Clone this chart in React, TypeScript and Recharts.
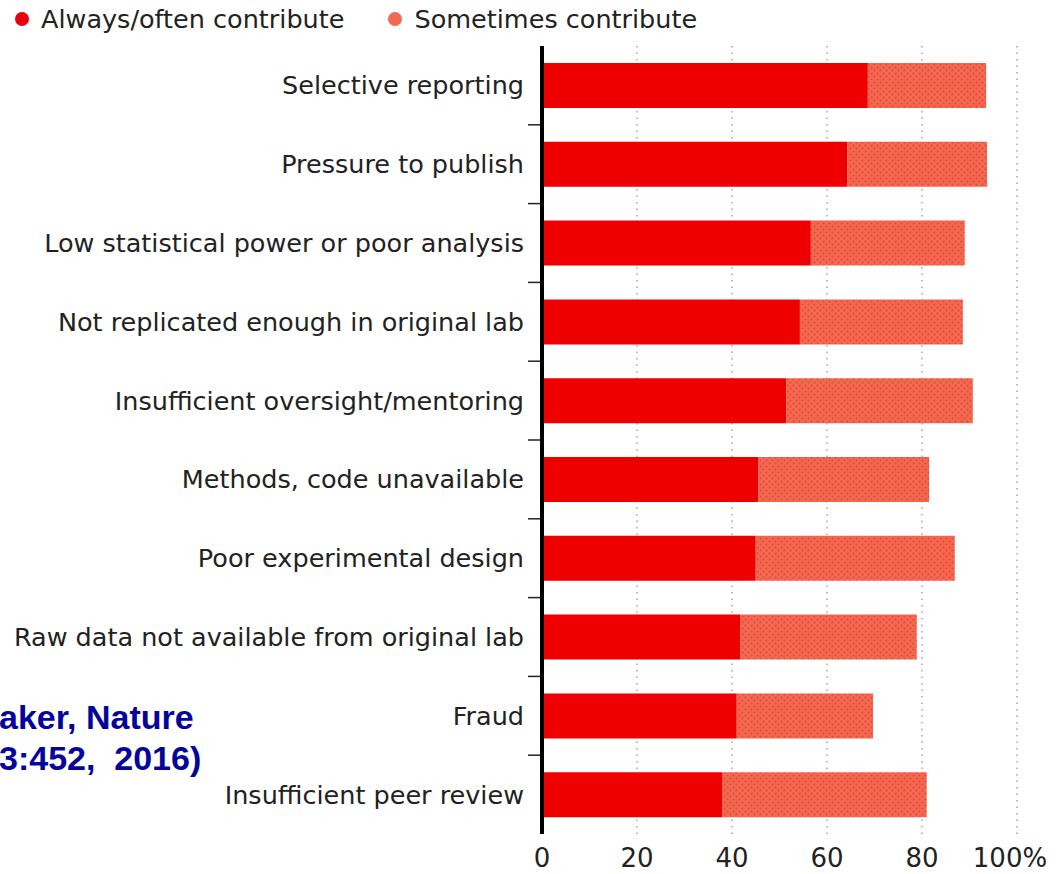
import { BarChart, Bar, XAxis, YAxis, CartesianGrid } from 'recharts';

const causes = [
  'Selective reporting',
  'Pressure to publish',
  'Low statistical power or poor analysis',
  'Not replicated enough in original lab',
  'Insufficient oversight/mentoring',
  'Methods, code unavailable',
  'Poor experimental design',
  'Raw data not available from original lab',
  'Fraud',
  'Insufficient peer review',
];
const alwaysOften = [68.6, 64.3, 56.6, 54.3, 51.4, 45.5, 45.0, 41.7, 41.0, 37.9];
const sometimes = [24.9, 29.4, 32.4, 34.3, 39.3, 36.0, 41.9, 37.2, 28.7, 43.1];
const xTicks = [0, 20, 40, 60, 80, 100];
const legendLabels = ['Always/often contribute', 'Sometimes contribute'];

const RED = '#ee0000';
const SALMON = '#f5684f';
const FONT = '"DejaVu Sans", sans-serif';

const rows = causes.map((name, i) => ({ name, always: alwaysOften[i], sometimes: sometimes[i] }));

function CauseTick(props: any) {
  const { x, y, payload, index } = props;
  const half = payload.offset ?? 39.5;
  return (
    <g>
      <text x={x - 16} y={y} dy="0.35em" textAnchor="end" fontSize={25.5} fill="#222" fontFamily={FONT}>
        {payload.value}
      </text>
      {index < causes.length - 1 && (
        <line x1={x - 12} x2={x} y1={y + half} y2={y + half} stroke="#222" strokeWidth={1.5} />
      )}
    </g>
  );
}

function PctTick(props: any) {
  const { x, y, payload } = props;
  const last = payload.value === 100;
  return (
    <text x={last ? x - 7 : x} y={y} dy="0.71em" textAnchor="middle" fontSize={26} fill="#222" fontFamily={FONT}>
      {last ? '100%' : payload.value}
    </text>
  );
}

function LegendRow() {
  const colors = ['#e8000c', '#f26a55'];
  return (
    <div
      style={{
        position: 'absolute',
        left: 15,
        top: 4,
        display: 'flex',
        gap: 44,
        fontFamily: FONT,
        fontSize: 25.5,
        color: '#222',
      }}
    >
      {legendLabels.map((label, i) => (
        <div key={label} style={{ display: 'flex', alignItems: 'center' }}>
          <span
            style={{ width: 14, height: 14, borderRadius: 7, background: colors[i], display: 'inline-block', marginRight: 12 }}
          />
          {label}
        </div>
      ))}
    </div>
  );
}

export default function App() {
  return (
    <div style={{ position: 'absolute', left: 0, top: 0, width: 1064, height: 874, background: '#fff', overflow: 'hidden' }}>
      <svg width={0} height={0} style={{ position: 'absolute' }}>
        <defs>
          <pattern id="dotfill" width={6} height={6} patternUnits="userSpaceOnUse">
            <rect width={6} height={6} fill={SALMON} />
            <circle cx={1.5} cy={1.5} r={1} fill="#d94a3a" />
            <circle cx={4.5} cy={4.5} r={1} fill="#d94a3a" />
          </pattern>
        </defs>
      </svg>
      <BarChart
        width={1064}
        height={874}
        data={rows}
        layout="vertical"
        margin={{ top: 46, right: 47, bottom: 0, left: 0 }}
      >
        <CartesianGrid horizontal={false} vertical stroke="#777" strokeDasharray="1.5 5" />
        <XAxis
          type="number"
          domain={[0, 100]}
          ticks={xTicks}
          axisLine={false}
          tickLine={false}
          tickMargin={9}
          height={40}
          tick={<PctTick />}
        />
        <YAxis
          type="category"
          dataKey="name"
          width={542}
          axisLine={{ stroke: '#000', strokeWidth: 4 }}
          tickLine={false}
          tickSize={0}
          tick={<CauseTick />}
          interval={0}
        />
        <Bar dataKey="always" stackId="a" fill={RED} barSize={45} isAnimationActive={false} />
        <Bar dataKey="sometimes" stackId="a" fill="url(#dotfill)" barSize={45} isAnimationActive={false} />
      </BarChart>
      <LegendRow />
      <div
        style={{
          position: 'absolute',
          left: -1,
          top: 697,
          fontFamily: '"Liberation Sans", Arial, sans-serif',
          fontWeight: 'bold',
          fontSize: 34,
          lineHeight: '41px',
          color: '#05059c',
          whiteSpace: 'pre',
        }}
      >
        {'aker, Nature\n3:452,  2016)'}
      </div>
    </div>
  );
}
